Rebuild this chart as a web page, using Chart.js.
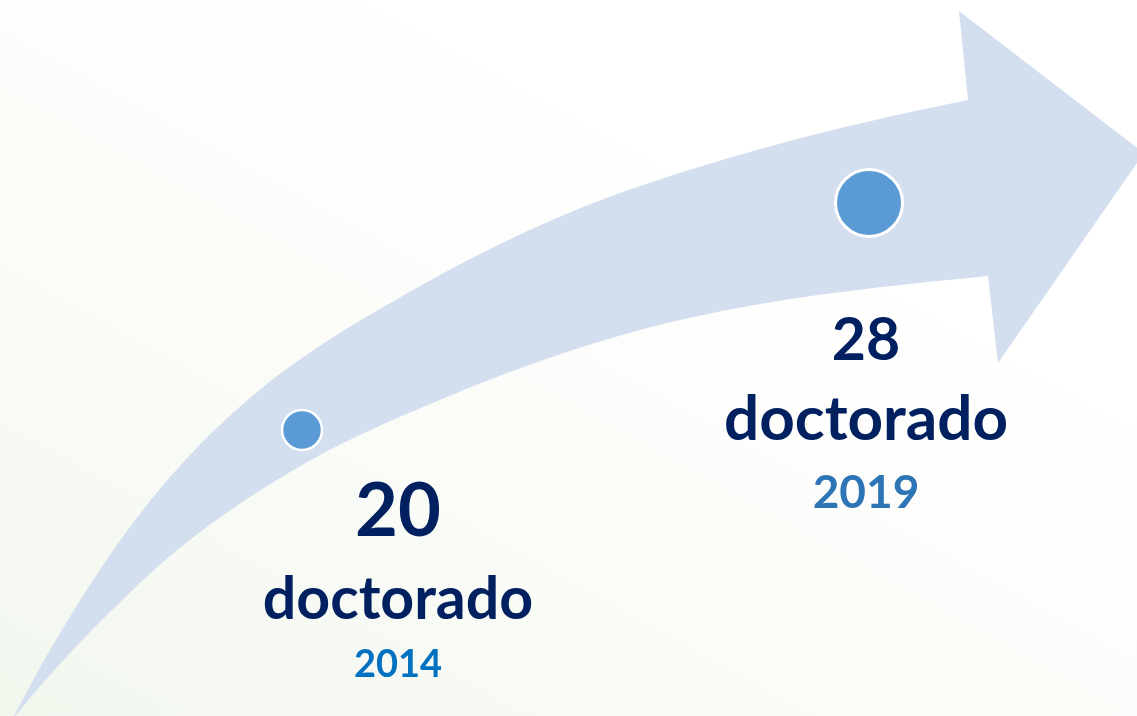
<!DOCTYPE html>
<html>
<head>
<meta charset="utf-8">
<script src="https://cdn.jsdelivr.net/npm/chart.js@4/dist/chart.umd.min.js"></script>
<style>
  html, body { margin: 0; padding: 0; background: #ffffff; }
  #wrap { width: 1137px; height: 716px; position: relative; }
</style>
</head>
<body>
<div id="wrap"><canvas id="c" width="1137" height="716"></canvas></div>
<script>
// ---- data ----
const years = [2014, 2019];
const doctorado = [20, 28];
const unitLabel = ['doctorado', 'doctorado'];
const yearLabels = ['2014', '2019'];

// ---- layout (not data) ----
const pointSizes = [20, 33.5];
const pointBorders = [2.5, 3];
const labelLayout = [
  { dx: 96, numBase: 536, numSize: 74, unitBase: 619, unitSize: 59, yearBase: 677, yearSize: 38, yearColor: '#0070c0' },
  { dx: -3, numBase: 360, numSize: 59, unitBase: 440, unitSize: 62, yearBase: 508, yearSize: 46, yearColor: '#2e75b6' }
];

// Hermite knots [x, y, slope] of the decorative arrow edges (reference pixel frame)
const upperKnots = [[12, 720, -1.95], [110, 555, -1.45], [250, 398, -0.85], [413, 290, -0.57], [640, 186, -0.34], [968, 100, -0.2]];
const lowerKnots = [[12, 720, -1.25], [140, 583, -0.95], [290, 472, -0.6], [447, 397, -0.42], [640, 330, -0.27], [988, 276, -0.1]];

function hermiteSegs(k, sx, sy) {
  const segs = [];
  for (let i = 0; i < k.length - 1; i++) {
    const [x0, y0, m0] = k[i], [x1, y1, m1] = k[i + 1];
    const d = (x1 - x0) / 3;
    segs.push([[x0 * sx, y0 * sy], [(x0 + d) * sx, (y0 + m0 * d) * sy], [(x1 - d) * sx, (y1 - m1 * d) * sy], [x1 * sx, y1 * sy]]);
  }
  return segs;
}

const backgroundPlugin = {
  id: 'bg',
  beforeDraw(chart) {
    const { ctx, width, height } = chart;
    ctx.save();
    const g = ctx.createLinearGradient(0, height, width * 0.35, 0);
    g.addColorStop(0, '#f2f7ee');
    g.addColorStop(0.55, '#fbfcf8');
    g.addColorStop(1, '#ffffff');
    ctx.fillStyle = g;
    ctx.fillRect(0, 0, width, height);
    ctx.restore();
  }
};

const arrowPlugin = {
  id: 'arrow',
  beforeDatasetsDraw(chart) {
    const { ctx, width, height } = chart;
    const sx = width / 1137, sy = height / 716;
    const up = hermiteSegs(upperKnots, sx, sy);
    const lo = hermiteSegs(lowerKnots, sx, sy).reverse();
    ctx.save();
    ctx.beginPath();
    ctx.moveTo(up[0][0][0], up[0][0][1]);
    up.forEach(s => ctx.bezierCurveTo(s[1][0], s[1][1], s[2][0], s[2][1], s[3][0], s[3][1]));
    ctx.lineTo(959 * sx, 11 * sy);
    ctx.lineTo(1144 * sx, 153 * sy);
    ctx.lineTo(998 * sx, 363 * sy);
    ctx.lineTo(lo[0][3][0], lo[0][3][1]);
    lo.forEach(s => ctx.bezierCurveTo(s[2][0], s[2][1], s[1][0], s[1][1], s[0][0], s[0][1]));
    ctx.closePath();
    ctx.fillStyle = '#d3deef';
    ctx.fill();
    ctx.restore();
  }
};

const labelPlugin = {
  id: 'labels',
  afterDatasetsDraw(chart) {
    const { ctx } = chart;
    const meta = chart.getDatasetMeta(0);
    ctx.save();
    ctx.textAlign = 'center';
    ctx.textBaseline = 'alphabetic';
    meta.data.forEach((pt, i) => {
      const L = labelLayout[i];
      const cx = pt.x + L.dx;
      ctx.fillStyle = '#002060';
      ctx.font = 'bold ' + L.numSize + 'px Lato, "Open Sans", sans-serif';
      ctx.fillText(String(doctorado[i]), cx, L.numBase);
      ctx.font = 'bold ' + L.unitSize + 'px Lato, "Open Sans", sans-serif';
      ctx.fillText(unitLabel[i], cx, L.unitBase);
      ctx.fillStyle = L.yearColor;
      ctx.font = 'bold ' + L.yearSize + 'px Lato, "Open Sans", sans-serif';
      ctx.fillText(yearLabels[i], cx, L.yearBase);
    });
    ctx.restore();
  }
};

new Chart(document.getElementById('c'), {
  type: 'scatter',
  data: {
    datasets: [{
      data: years.map((y, i) => ({ x: y, y: doctorado[i] })),
      pointRadius: pointSizes,
      pointHoverRadius: pointSizes,
      pointBackgroundColor: '#5b9bd5',
      pointBorderColor: '#ffffff',
      pointBorderWidth: pointBorders,
      showLine: false,
      clip: false
    }]
  },
  options: {
    responsive: false,
    animation: false,
    devicePixelRatio: 1,
    layout: { padding: 0, autoPadding: false },
    plugins: { legend: { display: false }, tooltip: { enabled: false } },
    events: [],
    scales: {
      x: { type: 'linear', display: false, min: 2011.337, max: 2021.363 },
      y: { type: 'linear', display: false, min: 9.92, max: 35.154 }
    }
  },
  plugins: [backgroundPlugin, arrowPlugin, labelPlugin]
});
</script>
</body>
</html>
